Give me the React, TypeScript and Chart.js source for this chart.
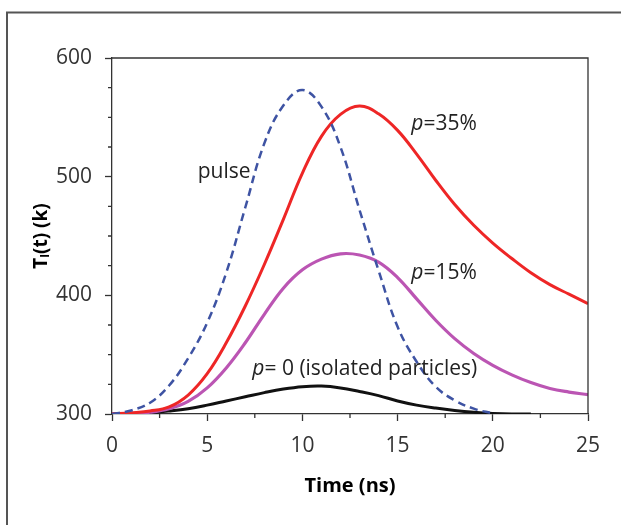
import { useEffect, useRef } from "react";
import { Chart, registerables } from "chart.js";

Chart.register(...registerables);

const time = [0, 1, 2, 3, 4, 5, 6, 7, 8, 9, 10, 11, 12, 13, 14, 15, 16, 17, 18, 19, 20, 21, 22, 23, 24, 25];
const pulse = [300, 303, 309.5, 324, 347, 377, 419, 474, 528, 560, 573, 559, 525, 472, 421, 373.5, 344, 323, 311.5, 304.5, 300.5, null, null, null, null, null];
const p35 = [300, 301, 302.5, 306, 316, 334, 360, 391, 426, 464, 503, 534, 552.5, 559.5, 553, 539, 519, 497, 476.5, 459, 444, 431, 419, 409, 401, 393];
const p15 = [300, 300.5, 301.5, 304.4, 310.6, 322, 338.8, 360, 384, 406, 421.5, 430.5, 435, 434, 428, 415, 397, 379, 363.5, 351, 341, 333, 326.5, 321.5, 318.5, 316.3];
const p0 = [300, 300.3, 301, 302.5, 304.5, 307.5, 311, 314.5, 318, 321, 323, 323.5, 322, 319, 315.5, 311, 307.5, 305, 303, 301.5, 300.5, 300, 300, null, null, null];

const xTicks = [0, 5, 10, 15, 20, 25];
const yTicks = [300, 400, 500, 600];

const noteLabels = ["pulse", "=35%", "=15%", "= 0 (isolated particles)"];
const noteItalic = ["", "p", "p", "p"];
const noteX = [4.5, 15.72, 15.72, 7.37];
const noteY = [504, 544.6, 419, 338.2];

const FONT = "'Open Sans', 'Noto Sans', sans-serif";

const isMult = (v: number, s: number) => Math.abs(v / s - Math.round(v / s)) < 1e-6;

const decorPlugin = {
  id: "decor",
  beforeDraw(chart: any) {
    const ctx = chart.ctx;
    ctx.save();
    ctx.strokeStyle = "#555";
    ctx.lineWidth = 2;
    ctx.beginPath();
    ctx.moveTo(7, chart.height);
    ctx.lineTo(7, 12.5);
    ctx.lineTo(chart.width, 12.5);
    ctx.stroke();
    ctx.restore();
  },
  afterDraw(chart: any) {
    const ctx = chart.ctx;
    const a = chart.chartArea;
    const xs = chart.scales.x;
    const ys = chart.scales.y;
    ctx.save();
    ctx.strokeStyle = "#333";
    ctx.lineWidth = 1.3;
    ctx.beginPath();
    ctx.moveTo(a.left, a.top);
    ctx.lineTo(a.right, a.top);
    ctx.lineTo(a.right, a.bottom);
    ctx.stroke();
    // minor ticks
    ctx.beginPath();
    for (let v = 300; v <= 600; v += 25) {
      if (isMult(v, 100)) continue;
      const py = ys.getPixelForValue(v);
      ctx.moveTo(a.left - 4, py);
      ctx.lineTo(a.left, py);
    }
    for (let v = 0; v <= 25; v += 2.5) {
      if (isMult(v, 5)) continue;
      const px = xs.getPixelForValue(v);
      ctx.moveTo(px, a.bottom);
      ctx.lineTo(px, a.bottom + 4);
    }
    ctx.stroke();
    // annotations
    ctx.fillStyle = "#222";
    ctx.textBaseline = "middle";
    ctx.textAlign = "left";
    for (let i = 0; i < noteLabels.length; i++) {
      let px = xs.getPixelForValue(noteX[i]);
      const py = ys.getPixelForValue(noteY[i]);
      if (noteItalic[i]) {
        ctx.font = `italic 21px ${FONT}`;
        ctx.fillText(noteItalic[i], px, py);
        px += ctx.measureText(noteItalic[i]).width;
      }
      ctx.font = `21px ${FONT}`;
      ctx.fillText(noteLabels[i], px, py);
    }
    ctx.restore();
  },
};

export default function App() {
  const ref = useRef<HTMLCanvasElement | null>(null);
  useEffect(() => {
    if (!ref.current) return;
    const common = { pointRadius: 0, tension: 0.4, fill: false };
    const chart = new Chart(ref.current, {
      type: "line",
      data: {
        labels: time,
        datasets: [
          { label: "pulse", data: pulse, borderColor: "#3e53a3", borderWidth: 2.5, borderDash: [8, 5], ...common },
          { label: "p=35%", data: p35, borderColor: "#ee2626", borderWidth: 3, ...common },
          { label: "p=15%", data: p15, borderColor: "#bb55b3", borderWidth: 3.2, ...common },
          { label: "p=0", data: p0, borderColor: "#111", borderWidth: 3, ...common },
        ],
      },
      options: {
        animation: false,
        responsive: false,
        maintainAspectRatio: false,
        layout: { padding: { top: 58, right: 33, left: 0, bottom: 0 } },
        plugins: { legend: { display: false }, tooltip: { enabled: false } },
        scales: {
          x: {
            type: "linear",
            min: 0,
            max: 25,
            afterFit: (s: any) => { s.height = 111; },
            afterBuildTicks: (s: any) => {
              const t: any[] = [];
              for (let v = 0; v <= 25; v += 2.5) t.push({ value: v });
              s.ticks = t;
            },
            ticks: {
              autoSkip: false,
              maxRotation: 0,
              padding: 12,
              color: "#333",
              font: { family: FONT, size: 21 },
              callback: (v: any) => (xTicks.some((t) => Math.abs(v - t) < 1e-6) ? String(v) : ""),
            },
            grid: {
              display: true,
              drawOnChartArea: false,
              tickLength: 7,
              tickWidth: 1.3,
              tickColor: (c: any) => (isMult(c.tick.value, 5) ? "#333" : "rgba(0,0,0,0)"),
            },
            border: { display: true, color: "#333", width: 1.3 },
            title: { display: true, text: "Time (ns)", color: "#000", font: { family: FONT, size: 20, weight: "bold" }, padding: { top: 0, bottom: 27 } },
          },
          y: {
            type: "linear",
            min: 300,
            max: 600,
            afterFit: (s: any) => { s.width = 112; },
            afterBuildTicks: (s: any) => {
              const t: any[] = [];
              for (let v = 300; v <= 600; v += 25) t.push({ value: v });
              s.ticks = t;
            },
            ticks: {
              autoSkip: false,
              padding: 13,
              color: "#333",
              font: { family: FONT, size: 21 },
              callback: (v: any) => (yTicks.includes(v) ? String(v) : ""),
            },
            grid: {
              display: true,
              drawOnChartArea: false,
              tickLength: 7,
              tickWidth: 1.3,
              tickColor: (c: any) => (isMult(c.tick.value, 100) ? "#333" : "rgba(0,0,0,0)"),
            },
            border: { display: true, color: "#333", width: 1.3 },
            title: { display: true, text: "Tₗ(t) (k)", color: "#000", font: { family: FONT, size: 19, weight: "bold" }, padding: { top: 30, bottom: 0 } },
          },
        },
      },
      plugins: [decorPlugin],
    } as any);
    return () => chart.destroy();
  }, []);
  return (
    <div style={{ position: "fixed", left: 0, top: 0, width: 621, height: 525, background: "#fff" }}>
      <canvas ref={ref} width={621} height={525} style={{ display: "block", width: 621, height: 525 }} />
    </div>
  );
}
